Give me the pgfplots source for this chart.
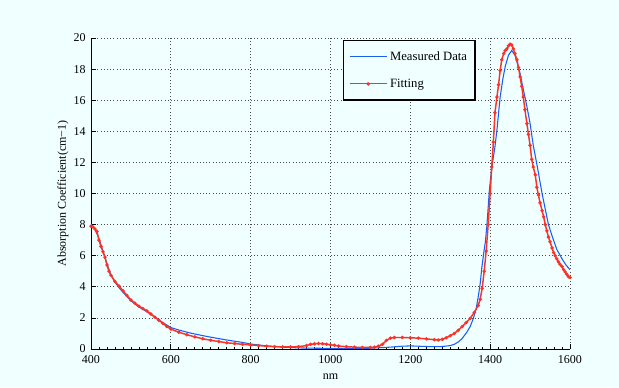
\documentclass[border=0pt]{standalone}
\usepackage{fontspec}
\setmainfont{Liberation Serif}
\usepackage{pgfplots}
\pgfplotsset{compat=1.18}
\definecolor{bg}{RGB}{240,255,255}
\definecolor{mblue}{RGB}{25,95,245}
\definecolor{mred}{RGB}{250,50,40}
\begin{document}
\begin{tikzpicture}
\fill[bg] (0pt,0pt) rectangle (464.25pt,290.25pt);
\useasboundingbox (0pt,0pt) rectangle (464.25pt,290.25pt);
\begin{axis}[
  at={(68.25pt,28.5pt)}, anchor=south west,
  scale only axis, width=359.25pt, height=233.25pt,
  xmin=400, xmax=1600, ymin=0, ymax=20,
  axis x line*=bottom, axis y line*=left,
  axis line style={black, line width=0.6pt},
  xtick={400,600,...,1600}, ytick={0,2,...,20},
  minor x tick num=9,
  tick align=inside,
  major tick length=3.5pt, minor tick length=1.5pt,
  tick style={black, line width=0.5pt},
  grid=major,
  major grid style={black!70, dotted, line width=0.5pt},
  ticklabel style={font=\fontsize{9}{10}\selectfont},
  xticklabel style={yshift=-1.5pt},
  yticklabel style={xshift=-0.5pt},
  /pgf/number format/assume math mode=true,
  /pgf/number format/1000 sep={},
  xlabel={nm}, ylabel={Absorption Coefficient(cm−1)},
  label style={font=\fontsize{9}{10}\selectfont},
  xlabel style={yshift=-1pt},
  ylabel style={yshift=-3pt},
  legend style={at={(0.526,0.994)}, anchor=north west, draw=black, line width=1.1pt,
    fill=bg, font=\fontsize{9.5}{11}\selectfont, row sep=8.5pt,
    inner xsep=4pt, inner ysep=6pt},
  legend cell align=left,
  legend image code/.code={\draw[#1, line width=0.8pt] (0pt,0pt) -- (28pt,0pt); \path[#1, only marks] plot coordinates {(14pt,0pt)};},
]
\addplot[mblue, line width=0.8pt, no markers] coordinates {
(400,8.05) (410,7.7) (420,7.1) (430,6.3) (440,5.5) (450,4.75) (460,4.3) (470,3.95) (480,3.65)
(500,3.1) (520,2.7) (540,2.4) (560,2.05) (580,1.7) (600,1.38) (620,1.22) (650,1.02) (680,0.86)
(700,0.76) (740,0.58) (780,0.42) (800,0.32) (840,0.2) (880,0.12) (920,0.07) (960,0.05)
(1000,0.04) (1050,0.04) (1100,0.05) (1150,0.12) (1180,0.18) (1200,0.2) (1220,0.18) (1250,0.15)
(1280,0.16) (1300,0.22) (1310,0.3) (1320,0.45) (1330,0.68) (1342,1.1) (1350,1.45) (1358,1.97)
(1365,2.6) (1371,3.5) (1375,4.2) (1379,5.2) (1384,6.2) (1388,6.9) (1392,8.0) (1398,10.2)
(1402,11.2) (1406,12.0) (1412,13.0) (1417,14.1) (1425,16.2) (1432,17.4) (1438,18.2) (1446,18.9)
(1454,19.2) (1462,18.9) (1468,18.4) (1475,17.7) (1483,16.7) (1492,15.6) (1500,14.5) (1508,13.1)
(1519,11.6) (1530,10.0) (1538,9.0) (1546,8.0) (1556,7.2) (1567,6.4) (1580,5.8) (1590,5.4) (1600,5.1)
};
\addlegendentry{Measured Data}
\addplot[mred, line width=1.1pt, mark=*, mark size=0.65pt] coordinates {
(400,7.90) (405,7.85) (410,7.72) (415,7.55) (420,7.0) (425,6.6) (430,6.25) (435,5.9) (440,5.4)
(445,5.0) (450,4.75) (460,4.35) (470,4.05) (480,3.75) (490,3.45) (500,3.15) (510,2.95) (520,2.75)
(530,2.6) (540,2.45) (550,2.25) (560,2.05) (570,1.85) (580,1.65) (590,1.45) (600,1.28) (620,1.08)
(640,0.92) (660,0.78) (680,0.66) (700,0.56) (720,0.48) (740,0.40) (760,0.35) (780,0.30) (800,0.26)
(820,0.22) (840,0.18) (860,0.15) (880,0.14) (900,0.14) (920,0.15) (940,0.22) (950,0.30) (960,0.33)
(970,0.35) (980,0.34) (990,0.31) (1000,0.27) (1010,0.24) (1020,0.19) (1040,0.15) (1060,0.12)
(1080,0.10) (1100,0.10) (1110,0.12) (1120,0.18) (1130,0.30) (1140,0.55) (1150,0.70) (1160,0.74)
(1180,0.74) (1200,0.72) (1220,0.70) (1240,0.65) (1260,0.60) (1270,0.58) (1280,0.62) (1290,0.72)
(1300,0.85) (1310,1.0) (1320,1.2) (1330,1.45) (1340,1.7) (1350,1.97) (1360,2.35) (1370,2.8)
(1375,3.2) (1380,3.9) (1385,5.0) (1390,6.3) (1395,8.0) (1400,10.0) (1404,11.7) (1408,13.3)
(1412,15.2) (1417,16.2) (1421,17.0) (1425,17.9) (1429,18.6) (1434,19.0) (1438,19.2) (1442,19.3)
(1446,19.5) (1450,19.6) (1454,19.55) (1458,19.3) (1462,19.0) (1467,18.6) (1471,18.1) (1475,17.5)
(1479,16.9) (1483,16.2) (1487,15.4) (1492,14.5) (1496,13.8) (1500,13.1) (1504,12.2) (1508,11.7)
(1513,11.2) (1517,10.4) (1521,9.9) (1525,9.4) (1530,8.9) (1534,8.5) (1538,8.0) (1542,7.6)
(1546,7.2) (1550,6.9) (1555,6.5) (1559,6.2) (1563,6.0) (1567,5.8) (1571,5.6) (1575,5.45)
(1580,5.3) (1584,5.1) (1588,4.95) (1592,4.8) (1596,4.65) (1600,4.6)
};
\addlegendentry{Fitting}
\end{axis}
\end{tikzpicture}
\end{document}
